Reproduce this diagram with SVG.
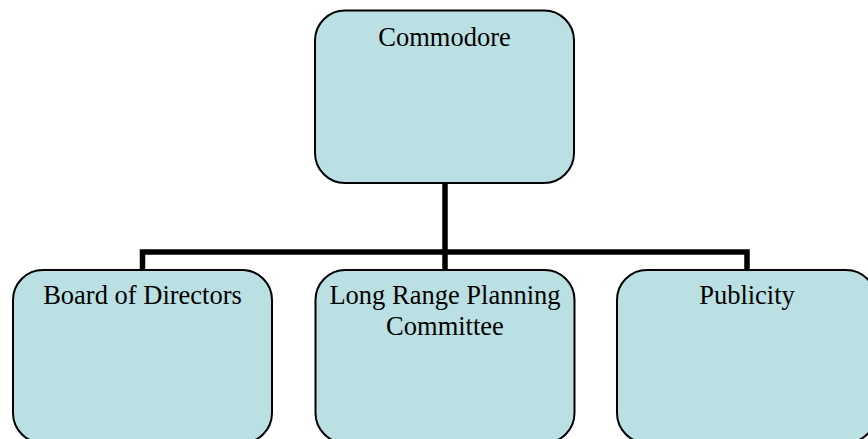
<svg xmlns="http://www.w3.org/2000/svg" width="868" height="439" viewBox="0 0 868 439">
<style>
.box{fill:#BAE0E3;stroke:#000;stroke-width:2}
.lbl{font-family:'Liberation Serif','Times New Roman','DejaVu Serif',serif;font-size:26.5px;fill:#000;text-anchor:middle}
.conn{fill:none;stroke:#000;stroke-width:5.5}
</style>
<rect width="868" height="439" fill="#fff"/>
<g id="connectors">
<path class="conn" d="M445 183 V270"/>
<path class="conn" d="M142.5 270 V252 H747 V270"/>
</g>
<g id="commodore">
<rect class="box" x="315" y="10.5" width="259" height="172.5" rx="30" ry="30"/>
<text class="lbl" x="444.5" y="45.5" font-family="Liberation Serif, serif">Commodore</text>
</g>
<g id="board">
<rect class="box" x="13" y="270" width="259" height="173" rx="30" ry="30"/>
<text class="lbl" x="142.5" y="304" font-family="Liberation Serif, serif">Board of Directors</text>
</g>
<g id="planning">
<rect class="box" x="315.5" y="270" width="259" height="173" rx="30" ry="30"/>
<text class="lbl" x="445" y="303.5" font-family="Liberation Serif, serif">Long Range Planning</text>
<text class="lbl" x="445" y="334.5" font-family="Liberation Serif, serif">Committee</text>
</g>
<g id="publicity">
<rect class="box" x="617" y="270" width="259" height="173" rx="30" ry="30"/>
<text class="lbl" x="747" y="303.5" font-family="Liberation Serif, serif">Publicity</text>
</g>
</svg>
